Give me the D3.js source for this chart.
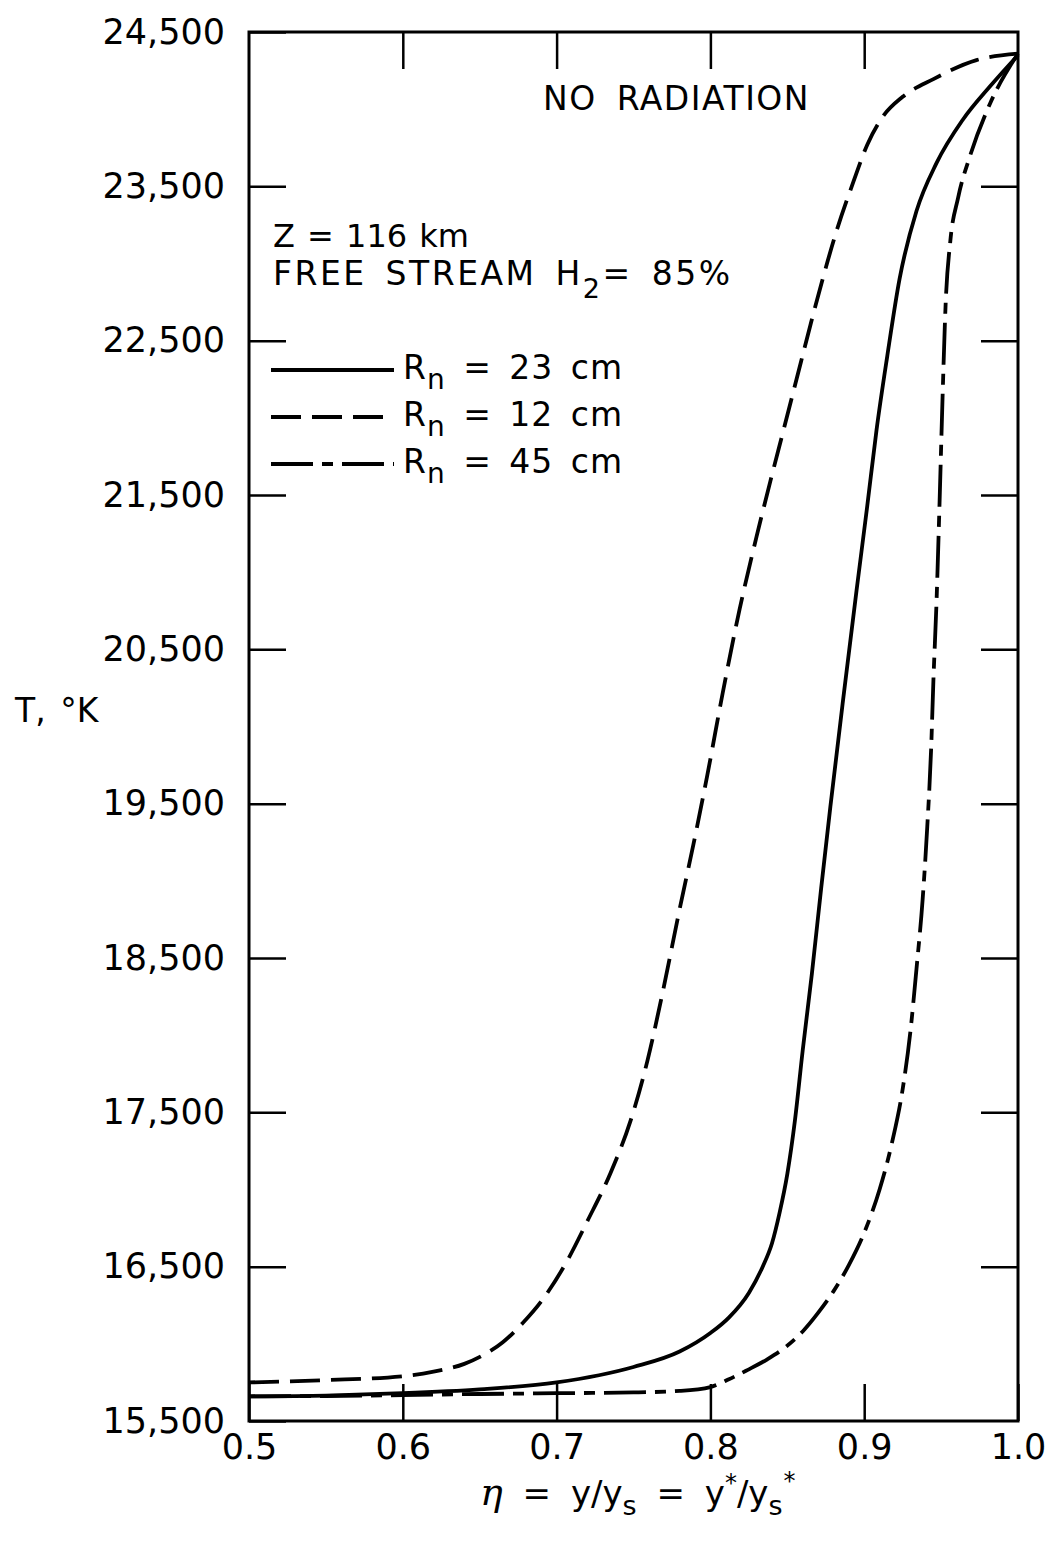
<!DOCTYPE html>
<html>
<head>
<meta charset="utf-8">
<script src="https://cdn.jsdelivr.net/npm/d3@7"></script>
<style>
  html, body { margin: 0; padding: 0; background: #fff; }
  svg { display: block; }
  text { font-family: "DejaVu Sans", "Liberation Sans", sans-serif; fill: #000; }
</style>
</head>
<body>
<svg id="chart" width="1047" height="1546"></svg>
<script>
// ---------------- data ----------------
const xTickValues = [0.5, 0.6, 0.7, 0.8, 0.9, 1.0];
const xTickLabels = ["0.5", "0.6", "0.7", "0.8", "0.9", "1.0"];
const yTickValues = [15500, 16500, 17500, 18500, 19500, 20500, 21500, 22500, 23500, 24500];

const seriesNames = ["R_n = 23 cm", "R_n = 12 cm", "R_n = 45 cm"];

// Rn = 23 cm (solid)
const eta23 = [0.50, 0.55, 0.60, 0.65, 0.70, 0.75, 0.78, 0.80, 0.812, 0.825, 0.834, 0.840, 0.845, 0.850, 0.855, 0.860, 0.866, 0.872, 0.878, 0.886, 0.895, 0.902, 0.908, 0.915, 0.923, 0.934, 0.947, 0.964, 0.982, 1.0];
const T23   = [15660, 15665, 15680, 15705, 15750, 15850, 15950, 16070, 16170, 16330, 16500, 16650, 16850, 17100, 17450, 17900, 18400, 18950, 19480, 20150, 20880, 21430, 21920, 22400, 22900, 23340, 23650, 23930, 24150, 24350];

// Rn = 12 cm (long dashes)
const eta12 = [0.50, 0.55, 0.60, 0.62, 0.64, 0.652, 0.665, 0.678, 0.69, 0.707, 0.72, 0.735, 0.748, 0.759, 0.769, 0.780, 0.789, 0.798, 0.808, 0.819, 0.830, 0.839, 0.847, 0.856, 0.865, 0.873, 0.882, 0.893, 0.902, 0.912, 0.925, 0.945, 0.973, 1.0];
const T12   = [15750, 15765, 15790, 15820, 15870, 15925, 16010, 16135, 16275, 16540, 16795, 17106, 17443, 17832, 18279, 18817, 19238, 19685, 20217, 20760, 21230, 21590, 21900, 22250, 22600, 22900, 23210, 23530, 23770, 23950, 24080, 24195, 24318, 24360];

// Rn = 45 cm (long-short dashes)
const eta45 = [0.50, 0.55, 0.60, 0.65, 0.70, 0.75, 0.78, 0.80, 0.812, 0.824, 0.837, 0.849, 0.860, 0.870, 0.880, 0.890, 0.900, 0.910, 0.918, 0.925, 0.930, 0.934, 0.938, 0.941, 0.9435, 0.945, 0.947, 0.949, 0.951, 0.953, 0.956, 0.961, 0.969, 0.982, 1.0];
const T45   = [15660, 15662, 15668, 15675, 15680, 15685, 15695, 15720, 15770, 15830, 15900, 15980, 16080, 16200, 16340, 16510, 16720, 17000, 17300, 17650, 18020, 18430, 18880, 19350, 19850, 20300, 20800, 21450, 22150, 22750, 23146, 23424, 23703, 24040, 24360];

// ---------------- layout ----------------
const svg = d3.select("#chart");
const plotL = 249, plotT = 32, plotR = 1018, plotB = 1421;

const x = d3.scaleLinear().domain([0.5, 1.0]).range([plotL, plotR]);
const y = d3.scaleLinear().domain([15500, 24500]).range([plotB, plotT]);

const tickLen = 37;
const fontTick = 35;

// frame
svg.append("rect")
  .attr("x", plotL).attr("y", plotT)
  .attr("width", plotR - plotL).attr("height", plotB - plotT)
  .attr("fill", "none").attr("stroke", "#000").attr("stroke-width", 3);

function styleAxis(g) {
  g.select(".domain").remove();
  g.selectAll(".tick line").attr("stroke", "#000").attr("stroke-width", 2.5);
  g.selectAll(".tick text")
    .style("font-family", "'DejaVu Sans', sans-serif")
    .style("font-size", fontTick + "px")
    .attr("fill", "#000");
}

// left axis with labels
svg.append("g")
  .attr("transform", `translate(${plotL},0)`)
  .call(d3.axisLeft(y).tickValues(yTickValues).tickFormat(d3.format(","))
    .tickSizeInner(-tickLen).tickSizeOuter(0).tickPadding(24))
  .call(styleAxis);

// right axis ticks
svg.append("g")
  .attr("transform", `translate(${plotR},0)`)
  .call(d3.axisRight(y).tickValues(yTickValues.slice(1, -1)).tickFormat("")
    .tickSizeInner(-tickLen).tickSizeOuter(0))
  .call(styleAxis);

// bottom axis with labels
svg.append("g")
  .attr("transform", `translate(0,${plotB})`)
  .call(d3.axisBottom(x).tickValues(xTickValues).tickFormat((d, i) => xTickLabels[i])
    .tickSizeInner(-tickLen).tickSizeOuter(0).tickPadding(13))
  .call(styleAxis);

// top axis ticks
svg.append("g")
  .attr("transform", `translate(0,${plotT})`)
  .call(d3.axisTop(x).tickValues(xTickValues.slice(1, -1)).tickFormat("")
    .tickSizeInner(-tickLen).tickSizeOuter(0))
  .call(styleAxis);

// ---------------- curves ----------------
const dashes = [null, "30,11", "42,9,11,9"];
const seriesData = [
  d3.zip(eta23, T23),
  d3.zip(eta12, T12),
  d3.zip(eta45, T45)
];

const line = d3.line()
  .x(d => x(d[0]))
  .y(d => y(d[1]))
  .curve(d3.curveMonotoneX);

seriesData.forEach((pts, i) => {
  svg.append("path")
    .datum(pts)
    .attr("d", line)
    .attr("fill", "none")
    .attr("stroke", "#000")
    .attr("stroke-width", 3.8)
    .attr("stroke-dasharray", dashes[i])
    .attr("stroke-linejoin", "round");
});

// ---------------- annotations ----------------
svg.append("text")
  .attr("x", 543).attr("y", 110)
  .style("font-size", "33px")
  .style("letter-spacing", "1.5px")
  .style("word-spacing", "8px")
  .text("NO RADIATION");

svg.append("text")
  .attr("x", 273).attr("y", 247)
  .style("font-size", "32px")
  .style("word-spacing", "2px")
  .text("Z = 116 km");

const fs = svg.append("text")
  .attr("x", 273).attr("y", 285)
  .style("font-size", "33px")
  .style("letter-spacing", "2.5px")
  .style("word-spacing", "6px");
fs.append("tspan").text("FREE STREAM H");
fs.append("tspan").attr("dy", 13).style("font-size", "27px").text("2");
fs.append("tspan").attr("dy", -13).text("= 85%");

// legend
const legendY = [370, 417, 464];
seriesNames.forEach((name, i) => {
  svg.append("line")
    .attr("x1", 271).attr("x2", 394)
    .attr("y1", legendY[i]).attr("y2", legendY[i])
    .attr("stroke", "#000").attr("stroke-width", 3.8)
    .attr("stroke-dasharray", dashes[i]);
  const parts = name.split("_");
  const rest = parts[1].slice(1);
  const t = svg.append("text")
    .attr("x", 403).attr("y", legendY[i] + 9)
    .style("font-size", "33px")
    .style("letter-spacing", "1px")
    .style("word-spacing", "6px");
  t.append("tspan").text(parts[0]);
  t.append("tspan").attr("dy", 10).style("font-size", "28px").text(parts[1][0]);
  t.append("tspan").attr("dy", -10).text(rest);
});

// y axis title
svg.append("text")
  .attr("x", 15).attr("y", 722)
  .style("font-size", "33px")
  .style("word-spacing", "4px")
  .text("T, °K");

// x axis title
const xt = svg.append("text")
  .attr("x", 480).attr("y", 1505)
  .style("font-size", "34px")
  .style("word-spacing", "9px");
xt.append("tspan").style("font-family", "'DejaVu Serif', serif").style("font-style", "italic").style("font-size", "38px").text("η");
xt.append("tspan").text(" = y/y");
xt.append("tspan").attr("dy", 10).style("font-size", "27px").text("s");
xt.append("tspan").attr("dy", -10).text(" = y");
xt.append("tspan").attr("dy", -14).style("font-size", "24px").text("*");
xt.append("tspan").attr("dy", 14).text("/y");
xt.append("tspan").attr("dy", 10).style("font-size", "27px").text("s");
xt.append("tspan").attr("dx", 1).attr("dy", -26).style("font-size", "24px").text("*");
</script>
</body>
</html>
